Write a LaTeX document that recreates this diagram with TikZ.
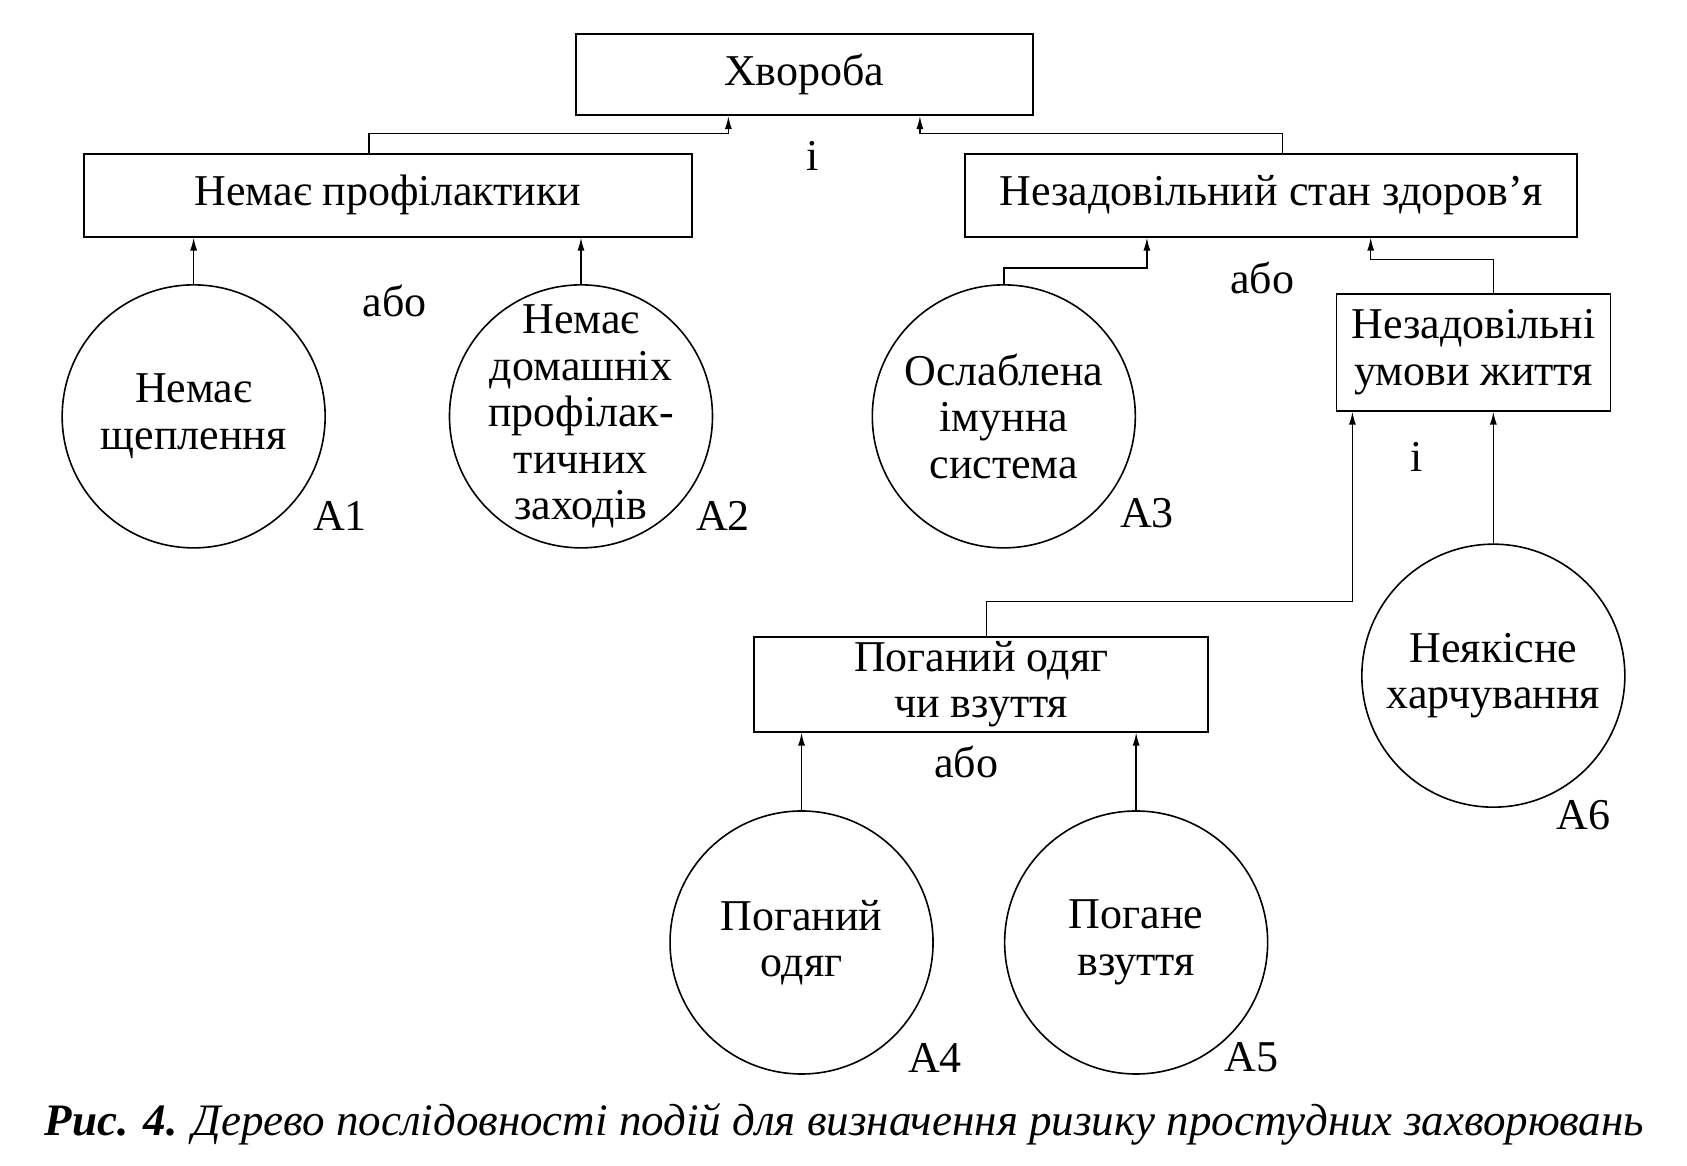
\documentclass[tikz,border=0pt]{standalone}
\usepackage{fontspec}
\setmainfont{Liberation Serif}
\usetikzlibrary{arrows.meta,calc}
\begin{document}
\begin{tikzpicture}[x=1.0759pt,y=-1.0759pt,
  every node/.style={font=\fontsize{44}{46.5}\selectfont},
  box/.style={draw,line width=1.6pt,rectangle,inner sep=0pt,align=center},
  ev/.style={draw,line width=1.6pt,circle,minimum size=263pt,inner sep=0pt},
  txt/.style={align=center,inner sep=0pt},
  arr/.style={line width=1.4pt,-{Latex[length=13pt,width=7pt]}},
  lab/.style={inner sep=0pt}]
\useasboundingbox[fill=white] (0,0) rectangle (1568,1083);
% boxes
\node[box,minimum width=457pt,minimum height=81pt] (hv) at (747.5,69.5) {Хвороба};
\node[box,minimum width=608pt,minimum height=83pt] (np) at (360.5,181.5) {Немає профілактики};
\node[box,minimum width=612pt,minimum height=83pt] (ns) at (1181.5,181.5) {Незадовільний стан здоров’я};
\node[box,minimum width=274pt,minimum height=117pt] (um) at (1369.5,327.5) {Незадовільні\\умови життя};
\node[box,minimum width=454pt,minimum height=95pt] (od) at (912,636) {Поганий одяг\\чи взуття};
% events
\node[ev,label={[txt]center:Немає\\щеплення}] (c1) at (180,387) {};
\node[ev,label={[txt]center:Немає\\домашніх\\профілак-\\тичних\\заходів}] (c2) at (540,387) {};
\node[ev,label={[txt]center:Ослаблена\\імунна\\система}] (c3) at (933,387) {};
\node[ev,label={[txt]center:Неякісне\\харчування}] (c6) at (1388,628) {};
\node[ev,label={[txt]center:Поганий\\одяг}] (c4) at (745,876) {};
\node[ev,label={[txt]center:Погане\\взуття}] (c5) at (1056,876) {};
% connectors
\draw[arr] ($(np.north)+(-17.5,0)$) -- ++(0,-18) -| ($(hv.south)+(-70.5,0)$);
\draw[arr] ($(ns.north)+(10.5,0)$) -- ++(0,-18) -| ($(hv.south)+(107.5,0)$);
\draw[arr] (c1.north) -- (c1.north |- np.south);
\draw[arr] (c2.north) -- (c2.north |- np.south);
\draw[arr] (c3.north) -- ++(0,-15) -| ($(ns.south)+(-115.5,0)$);
\draw[arr] ($(um.north)+(18.5,0)$) -- ++(0,-31) -| ($(ns.south)+(92.5,0)$);
\draw[arr] ($(od.north)+(5,0)$) -- ++(0,-32) -| ($(um.south)+(-112.5,0)$);
\draw[arr] (c6.north) -- (c6.north |- um.south);
\draw[arr] (c4.north) -- (c4.north |- od.south);
\draw[arr] (c5.north) -- (c5.north |- od.south);
% gate labels
\node[lab] (g1) at (755,145) {і};
\node[lab] (g2) at (367,280) {або};
\node[lab] (g3) at (1173,258) {або};
\node[lab] (g4) at (1317,425) {і};
\node[lab] (g5) at (898,708) {або};
% event ids
\node[lab] (a1) at (316,480) {A1};
\node[lab] (a2) at (672,480) {A2};
\node[lab] (a3) at (1066,477) {A3};
\node[lab] (a6) at (1472,758) {A6};
\node[lab] (a4) at (869,983) {A4};
\node[lab] (a5) at (1163,983) {A5};
% caption
\node[lab,font=\fontsize{45}{50}\selectfont] (cap) at (785,1045) {\itshape\textbf{Рис. 4.} Дерево послідовності подій для визначення ризику простудних захворювань};
\end{tikzpicture}
\end{document}
